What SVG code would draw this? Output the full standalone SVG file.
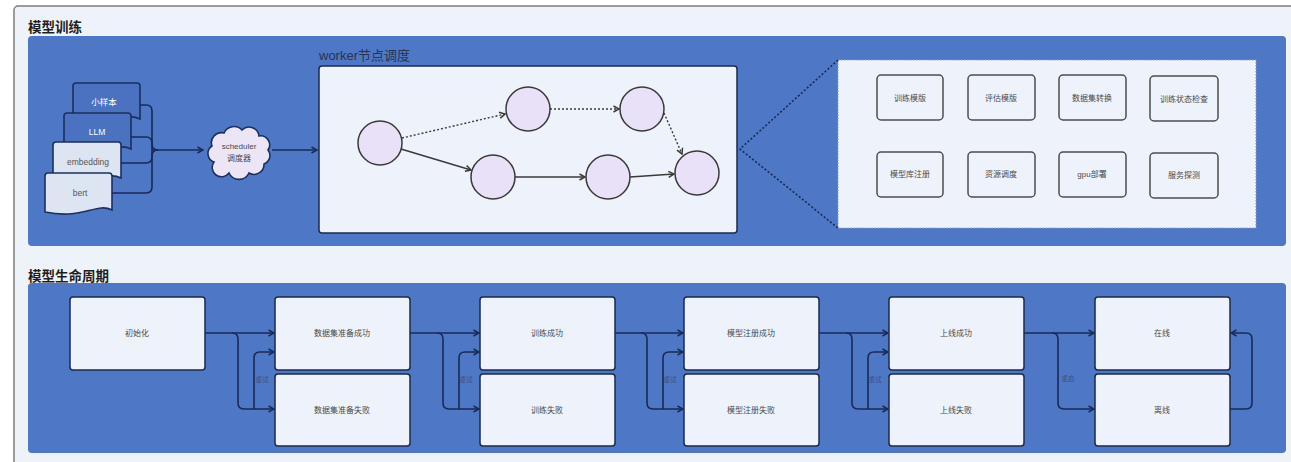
<svg xmlns="http://www.w3.org/2000/svg" width="1291" height="462" viewBox="0 0 1291 462">
  <style>
    .title { font-family: "Liberation Sans", "Noto Sans CJK SC", sans-serif; font-size: 13.5px; font-weight: bold; fill: #1e1e1e; }
    .sub { font-family: "Liberation Sans", "Noto Sans CJK SC", sans-serif; font-size: 13px; fill: #2a3350; }
    .lbl { font-family: "Liberation Sans", "Noto Sans CJK SC", sans-serif; font-size: 8px; fill: #4a4a4a; text-anchor: middle; dominant-baseline: central; }
    .doclbl { font-family: "Liberation Sans", "Noto Sans CJK SC", sans-serif; font-size: 8.5px; text-anchor: middle; dominant-baseline: central; }
    .retry { font-family: "Liberation Sans", "Noto Sans CJK SC", sans-serif; font-size: 6.5px; fill: #3f5183; text-anchor: middle; dominant-baseline: central; }
    .panel { fill: #4e77c5; }
    .box { fill: #eef2fa; stroke: #1d2a4a; stroke-width: 1.5; }
    .tool { fill: #eef2fa; stroke: #4d4d4d; stroke-width: 1.5; }
    .node { fill: #e8e1f8; stroke: #3a3a3a; stroke-width: 1.5; }
    .flow { fill: none; stroke: #1a2a57; stroke-width: 1.6; }
    .dag { fill: none; stroke: #3a3a3a; stroke-width: 1.4; }
    .dot { stroke-dasharray: 2 2; }
  </style>
  <defs>
    <marker id="arrNavy" markerWidth="8" markerHeight="8" refX="7" refY="4" orient="auto" markerUnits="userSpaceOnUse">
      <path d="M1.5,1 L7,4 L1.5,7" fill="none" stroke="#1a2a57" stroke-width="1.5"/>
    </marker>
    <marker id="arrGray" markerWidth="8" markerHeight="8" refX="7" refY="4" orient="auto" markerUnits="userSpaceOnUse">
      <path d="M1.5,1 L7,4 L1.5,7" fill="none" stroke="#3a3a3a" stroke-width="1.5"/>
    </marker>
  </defs>

  <!-- page -->
  <rect x="0" y="0" width="1291" height="462" fill="#ffffff"/>
  <rect x="14" y="6" width="1300" height="470" rx="4" fill="#eef2f9" stroke="#7d7d7d" stroke-width="1.5"/>

  <!-- ===== 模型训练 ===== -->
  <text class="title" x="28" y="32">模型训练</text>
  <rect class="panel" x="28" y="36" width="1258" height="210" rx="4"/>

  <!-- task documents -->
  <g id="doc-small">
    <path d="M73,86 Q73,83 76,83 H137 Q140,83 140,86 V119 C124,111 112,129 73,121 Z" fill="#4a72c0" stroke="#1c2f5e" stroke-width="1.6"/>
    <text class="doclbl" x="104" y="102" fill="#ffffff" font-size="7.5">小样本</text>
  </g>
  <g id="doc-llm">
    <path d="M64,116 Q64,113 67,113 H128 Q131,113 131,116 V149 C115,141 103,159 64,151 Z" fill="#4a72c0" stroke="#1c2f5e" stroke-width="1.6"/>
    <text class="doclbl" x="97" y="132" fill="#ffffff" font-size="7.5">LLM</text>
  </g>
  <g id="doc-embedding">
    <path d="M53,145 Q53,142 56,142 H118 Q121,142 121,145 V178 C105,170 93,188 53,180 Z" fill="#dde4f2" stroke="#1c2f5e" stroke-width="1.6"/>
    <text class="doclbl" x="88" y="162" fill="#555555">embedding</text>
  </g>
  <g id="doc-bert">
    <path d="M45,176 Q45,173 48,173 H109 Q112,173 112,176 V210 C96,202 84,220 45,212 Z" fill="#dde4f2" stroke="#1c2f5e" stroke-width="1.6"/>
    <text class="doclbl" x="80" y="193" fill="#555555">bert</text>
  </g>

  <!-- scheduler -->
  <g id="scheduler">
    <path d="M214,162 a9,9 0 0,1 -2,-16 a10,10 0 0,1 12,-13 a11,11 0 0,1 18,-3 a10,10 0 0,1 17,6 a9,9 0 0,1 9,14 a9,9 0 0,1 -4,14 a10,10 0 0,1 -15,9 a11,11 0 0,1 -20,0 a9,9 0 0,1 -15,-11 Z" fill="#ece5f6" stroke="#1c2f5e" stroke-width="1.6"/>
    <text class="lbl" x="239" y="146" fill="#555">scheduler</text>
    <text class="lbl" x="239" y="158" fill="#555">调度器</text>
  </g>

  <!-- worker scheduling -->
  <text class="sub" x="319" y="60">worker节点调度</text>
  <g id="worker">
    <rect x="319" y="66" width="418" height="167" rx="3" fill="#eef2fa" stroke="#1d2a4a" stroke-width="1.5"/>
    <circle id="w1" class="node" cx="380" cy="143" r="22"/>
    <circle id="w2" class="node" cx="528" cy="109" r="22"/>
    <circle id="w3" class="node" cx="642" cy="109" r="22"/>
    <circle id="w4" class="node" cx="493" cy="177" r="22"/>
    <circle id="w5" class="node" cx="608" cy="177" r="22"/>
    <circle id="w6" class="node" cx="697" cy="173" r="22"/>
  </g>

  <!-- task components -->
  <g id="components">
    <rect x="838" y="60" width="418" height="168" fill="#eef2fa" stroke="#8f9dbb" stroke-width="1.2" stroke-dasharray="1.5 1.5"/>
    <g id="c-train"><rect class="tool" x="877" y="75" width="66" height="45" rx="4"/><text class="lbl" x="910" y="98">训练模版</text></g>
    <g id="c-eval"><rect class="tool" x="968" y="75" width="67" height="45" rx="4"/><text class="lbl" x="1001" y="98">评估模版</text></g>
    <g id="c-dataset"><rect class="tool" x="1059" y="75" width="67" height="45" rx="4"/><text class="lbl" x="1092" y="98">数据集转换</text></g>
    <g id="c-check"><rect class="tool" x="1150" y="76" width="68" height="45" rx="4"/><text class="lbl" x="1184" y="99">训练状态检查</text></g>
    <g id="c-registry"><rect class="tool" x="877" y="152" width="66" height="45" rx="4"/><text class="lbl" x="910" y="174">模型库注册</text></g>
    <g id="c-resource"><rect class="tool" x="968" y="152" width="67" height="45" rx="4"/><text class="lbl" x="1001" y="174">资源调度</text></g>
    <g id="c-gpu"><rect class="tool" x="1059" y="152" width="67" height="45" rx="4"/><text class="lbl" x="1092" y="174">gpu部署</text></g>
    <g id="c-probe"><rect class="tool" x="1150" y="153" width="68" height="45" rx="4"/><text class="lbl" x="1184" y="175">服务探测</text></g>
  </g>

  <!-- ===== 模型生命周期 ===== -->
  <text class="title" x="28" y="281">模型生命周期</text>
  <rect class="panel" x="28" y="283" width="1258" height="170" rx="4"/>

  <g id="s-init"><rect class="box" x="70" y="297" width="135" height="73" rx="3"/><text class="lbl" x="137" y="333">初始化</text></g>
  <g id="s-data-ok"><rect class="box" x="275" y="297" width="135" height="73" rx="3"/><text class="lbl" x="342" y="333">数据集准备成功</text></g>
  <g id="s-data-fail"><rect class="box" x="275" y="374" width="135" height="72" rx="3"/><text class="lbl" x="342" y="410">数据集准备失败</text></g>
  <g id="s-train-ok"><rect class="box" x="480" y="297" width="135" height="73" rx="3"/><text class="lbl" x="547" y="333">训练成功</text></g>
  <g id="s-train-fail"><rect class="box" x="480" y="374" width="135" height="72" rx="3"/><text class="lbl" x="547" y="410">训练失败</text></g>
  <g id="s-reg-ok"><rect class="box" x="684" y="297" width="135" height="73" rx="3"/><text class="lbl" x="751" y="333">模型注册成功</text></g>
  <g id="s-reg-fail"><rect class="box" x="684" y="374" width="135" height="72" rx="3"/><text class="lbl" x="751" y="410">模型注册失败</text></g>
  <g id="s-up-ok"><rect class="box" x="889" y="297" width="135" height="73" rx="3"/><text class="lbl" x="956" y="333">上线成功</text></g>
  <g id="s-up-fail"><rect class="box" x="889" y="374" width="135" height="72" rx="3"/><text class="lbl" x="956" y="410">上线失败</text></g>
  <g id="s-online"><rect class="box" x="1095" y="297" width="135" height="73" rx="3"/><text class="lbl" x="1162" y="333">在线</text></g>
  <g id="s-offline"><rect class="box" x="1095" y="374" width="135" height="72" rx="3"/><text class="lbl" x="1162" y="410">离线</text></g>

  <!-- connectors -->
  <g id="connectors">
    <!-- documents into scheduler -->
    <path class="flow" d="M140,105 H146 Q152,105 152,111 V144 Q152,150 158,150"/>
    <path class="flow" d="M131,137 H146 Q152,137 152,143 V150"/>
    <path class="flow" d="M121,163 H146 Q152,163 152,157 V150"/>
    <path class="flow" d="M112,193 H146 Q152,193 152,187 V156 Q152,150 158,150"/>
    <path class="flow" d="M152,150 H203" marker-end="url(#arrNavy)"/>
    <path class="flow" d="M272,150 H317" marker-end="url(#arrNavy)"/>

    <!-- worker DAG -->
    <path class="dag dot" d="M402,138 L505,114" marker-end="url(#arrGray)"/>
    <path class="dag" d="M401,149 L471,170" marker-end="url(#arrGray)"/>
    <path class="dag dot" d="M550,109 H619" marker-end="url(#arrGray)"/>
    <path class="dag dot" d="M664,113 L682,154" marker-end="url(#arrGray)"/>
    <path class="dag" d="M515,177 H585" marker-end="url(#arrGray)"/>
    <path class="dag" d="M630,177 L674,174" marker-end="url(#arrGray)"/>

    <!-- worker to components -->
    <path class="flow dot" d="M838,60 L740,149 L838,228" stroke="#1a2440" stroke-width="1.2"/>

    <!-- lifecycle -->
    <path class="flow" d="M205,333 H274" marker-end="url(#arrNavy)"/>
    <path class="flow" d="M232,333 Q238,333 238,339 V403 Q238,409 244,409 H274" marker-end="url(#arrNavy)"/>
    <path class="flow" d="M254,409 V358 Q254,352 260,352 H274" marker-end="url(#arrNavy)"/>

    <path class="flow" d="M410,333 H479" marker-end="url(#arrNavy)"/>
    <path class="flow" d="M437,333 Q443,333 443,339 V403 Q443,409 449,409 H479" marker-end="url(#arrNavy)"/>
    <path class="flow" d="M459,409 V358 Q459,352 465,352 H479" marker-end="url(#arrNavy)"/>

    <path class="flow" d="M615,333 H683" marker-end="url(#arrNavy)"/>
    <path class="flow" d="M641,333 Q647,333 647,339 V403 Q647,409 653,409 H683" marker-end="url(#arrNavy)"/>
    <path class="flow" d="M663,409 V358 Q663,352 669,352 H683" marker-end="url(#arrNavy)"/>

    <path class="flow" d="M819,333 H888" marker-end="url(#arrNavy)"/>
    <path class="flow" d="M846,333 Q852,333 852,339 V403 Q852,409 858,409 H888" marker-end="url(#arrNavy)"/>
    <path class="flow" d="M868,409 V358 Q868,352 874,352 H888" marker-end="url(#arrNavy)"/>

    <path class="flow" d="M1024,333 H1094" marker-end="url(#arrNavy)"/>
    <path class="flow" d="M1052,333 Q1058,333 1058,339 V403 Q1058,409 1064,409 H1094" marker-end="url(#arrNavy)"/>

    <path class="flow" d="M1230,409 H1246 Q1252,409 1252,403 V339 Q1252,333 1246,333 H1231" marker-end="url(#arrNavy)"/>

    <text class="retry" x="262" y="379">重试</text>
    <text class="retry" x="466" y="379">重试</text>
    <text class="retry" x="670" y="379">重试</text>
    <text class="retry" x="875" y="379">重试</text>
    <text class="retry" x="1068" y="378">重启</text>
  </g>
</svg>
